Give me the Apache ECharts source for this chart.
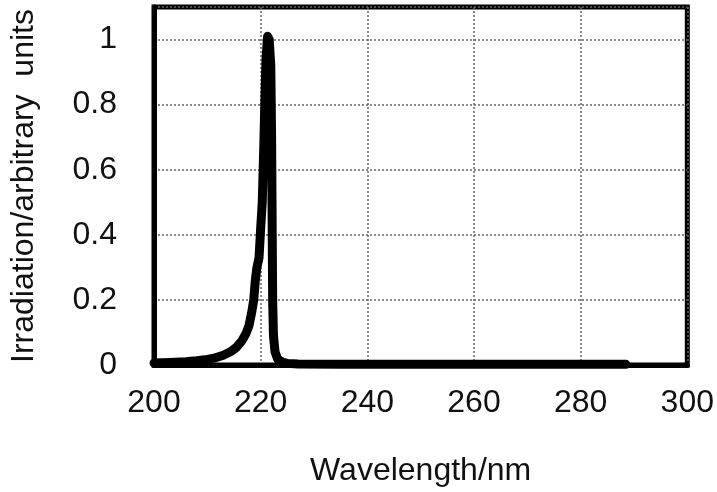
<!DOCTYPE html>
<html>
<head>
<meta charset="utf-8">
<script src="https://cdn.jsdelivr.net/npm/echarts@6/dist/echarts.min.js"></script>
<style>
html,body{margin:0;padding:0;background:#fff;}
#c{width:717px;height:492px;}
</style>
</head>
<body>
<div id="c"></div>
<script>
// Wavelength (nm)
const wavelength = [200, 203, 206, 208, 210, 211.5, 213, 214.5, 215.5, 216.5, 217.2, 217.8, 218.3, 218.7, 219.0, 219.3, 219.7, 220.0, 220.3, 220.6, 220.8, 221.0, 221.3, 221.6, 221.9, 222.05, 222.15, 222.25, 222.4, 222.7, 223.2, 224.0, 225, 227, 235, 250, 265, 280, 288.5];
// Irradiation (arbitrary units)
const irradiation = [0.006, 0.008, 0.01, 0.013, 0.017, 0.022, 0.03, 0.042, 0.055, 0.075, 0.095, 0.12, 0.16, 0.2, 0.26, 0.3, 0.33, 0.42, 0.5, 0.68, 0.82, 0.94, 1.01, 1.0, 0.92, 0.7, 0.45, 0.2, 0.09, 0.04, 0.018, 0.009, 0.005, 0.003, 0.002, 0.002, 0.002, 0.002, 0.002];
const xTicks = [200, 220, 240, 260, 280, 300];
const yTicks = [0, 0.2, 0.4, 0.6, 0.8, 1];
const xTitle = 'Wavelength/nm';
const yTitle = 'Irradiation/arbitrary  units';

const font = "'Liberation Sans', Arial, sans-serif";
const chart = echarts.init(document.getElementById('c'), null, {renderer: 'canvas'});
chart.setOption({
  animation: false,
  backgroundColor: '#fff',
  grid: {
    left: 152, right: 26, top: 7, bottom: 126,
    show: true, borderColor: '#000', borderWidth: 5, backgroundColor: 'transparent'
  },
  xAxis: {
    type: 'value', min: xTicks[0], max: xTicks[xTicks.length - 1], interval: 20,
    name: xTitle, nameLocation: 'middle', nameGap: 90,
    nameTextStyle: {fontFamily: font, fontSize: 32, color: '#111'},
    axisLine: {show: true, lineStyle: {color: '#000', width: 5}},
    axisTick: {show: false},
    axisLabel: {fontFamily: font, fontSize: 32, color: '#111', margin: 22},
    splitLine: {show: true, lineStyle: {color: '#666', width: 1.5, type: [2, 2]}}
  },
  yAxis: {
    type: 'value', min: 0, max: 1.1, interval: 0.2,
    name: yTitle, nameLocation: 'middle', nameGap: 114, nameRotate: 90,
    nameTextStyle: {fontFamily: font, fontSize: 32, color: '#111'},
    axisLine: {show: true, lineStyle: {color: '#000', width: 5}},
    axisTick: {show: false},
    axisLabel: {fontFamily: font, fontSize: 32, color: '#111', margin: 37, showMaxLabel: false,
      formatter: v => (yTicks.some(t => Math.abs(t - v) < 1e-9) ? String(+v.toFixed(1)) : '')},
    splitLine: {show: true, lineStyle: {color: '#666', width: 1.5, type: [2, 2]}}
  },
  series: [{
    type: 'line',
    data: wavelength.map((w, i) => [w, irradiation[i]]),
    showSymbol: false,
    smooth: false,
    lineStyle: {color: '#000', width: 9, join: 'round', cap: 'round'},
    z: 5
  }]
});
</script>
</body>
</html>
